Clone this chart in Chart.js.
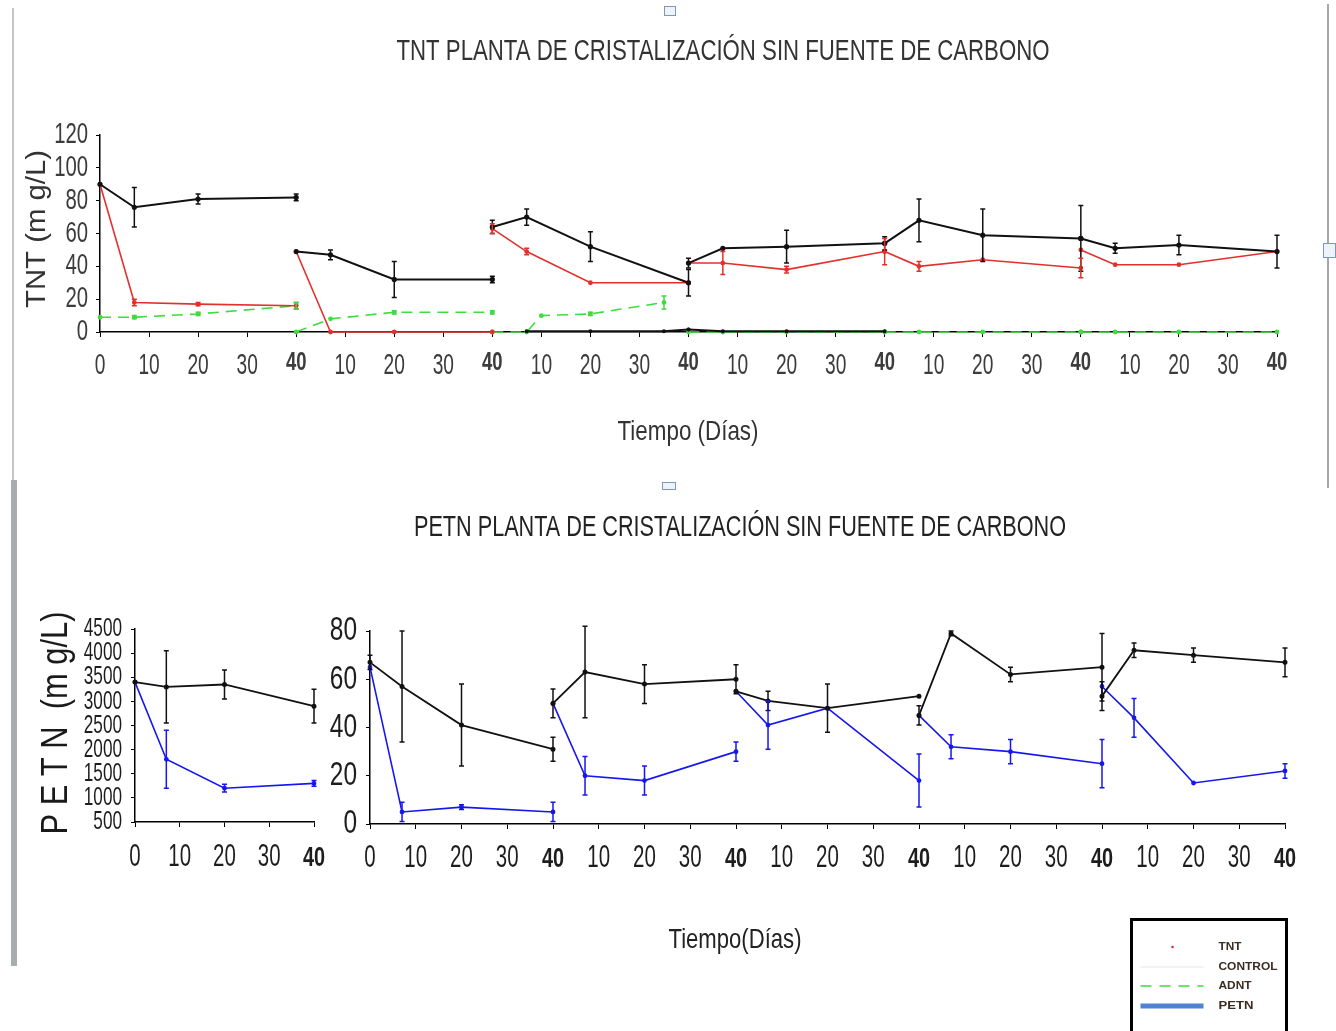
<!DOCTYPE html>
<html>
<head>
<meta charset="utf-8">
<title>TNT / PETN planta de cristalización sin fuente de carbono</title>
<script src="https://cdn.jsdelivr.net/npm/chart.js@4.4.1/dist/chart.umd.min.js"></script>
<style>
  html, body { margin: 0; padding: 0; background: #fff; }
  #page { position: relative; width: 1336px; height: 1031px; overflow: hidden; background: #fff; }
  #page canvas { position: absolute; left: 0; top: 0; }
  .frame { position: absolute; }
  .handle { position: absolute; border: 1px solid #7f97bd; background: #eef3fa; box-sizing: border-box; }
</style>
</head>
<body>
<div id="page">
  <div class="frame" style="left:12px;top:8px;width:2px;height:474px;background:#c6c6c6"></div>
  <div class="frame" style="left:11px;top:480px;width:6px;height:486px;background:#a9adb1"></div>
  <div class="frame" style="left:1327px;top:4px;width:2px;height:484px;background:#a3a8ae"></div>
  <div class="handle" style="left:664px;top:6px;width:12px;height:10px"></div>
  <div class="handle" style="left:1323px;top:243px;width:13px;height:15px"></div>
  <div class="handle" style="left:662px;top:482px;width:14px;height:8px"></div>
  <canvas id="tntChart" width="1336" height="1031"></canvas>
  <canvas id="petnHighChart" width="1336" height="1031"></canvas>
  <canvas id="petnChart" width="1336" height="1031"></canvas>
</div>
<script>
// ---- TNT (mg/L): six 40-day runs, sampled on these days ----
const tntDays = [0, 7, 20, 40];
const tntControl    = [[90, 76, 81, 82], [49, 47, 32, 32], [64, 70, 52, 30], [42, 51, 52, 54], [54, 68, 59, 57], [57, 51, 53, 49]];
const tntControlErr = [[0, 12, 3, 2], [0, 3, 11, 2], [4, 5, 9, 8], [3, 0, 10, 4], [0, 13, 16, 20], [0, 3, 6, 10]];
const tntPlant      = [[90, 18, 17, 16], [49, 0, 0, 0], [63, 49, 30, 30], [42, 42, 38, 49], [49, 40, 44, 39], [50, 41, 41, 49]];
const tntPlantErr   = [[0, 2, 1, 2], [0, 0, 0, 0], [3, 2, 0, 0], [0, 7, 2, 8], [0, 3, 0, 6], [0, 0, 0, 0]];
const adntDays = [[0, 7, 20, 40], [0, 7, 20, 40], [0, 7, 10, 20, 35], [0, 7, 20, 40], [0, 7, 20, 40], [0, 7, 20, 40]];
const adnt     = [[9, 9, 11, 16], [0, 8, 12, 12], [0, 0, 10, 11, 18], [0, 0, 0, 0], [0, 0, 0, 0], [0, 0, 0, 0]];
const adntErr  = [[0, 1, 1, 2], [0, 0, 1, 1], [0, 0, 0, 1, 4], [0, 0, 0, 0], [0, 0, 0, 0], [0, 0, 0, 0]];
// ADNT in the control flasks (runs 3 and 4 only)
const adntControlRuns = [2, 3];
const adntControlDays = [[7, 20, 35, 40], [0, 7, 20, 40]];
const adntControl     = [[0.4, 0.4, 0.4, 1.5], [1.5, 0.5, 0.5, 0.5]];

// ---- PETN (mg/L): first run on its own scale, then five runs ----
const petnDays = [0, 7, 20, 40];
const petnHighControl    = [3400, 3300, 3350, 2900];
const petnHighControlErr = [0, 750, 300, 350];
const petnHigh           = [3400, 1800, 1200, 1300];
const petnHighErr        = [0, 600, 80, 60];
const petnControl    = [[67, 57, 41, 31], [50, 63, 58, 60], [55, 51, 48, 53], [45, 79, 62, 65], [53, 72, 70, 67]];
const petnControlErr = [[3, 23, 17, 5], [6, 19, 8, 6], [0, 4, 10, 0], [4, 1, 3, 14], [6, 3, 3, 6]];
const petnPlant      = [[65, 5, 7, 5], [50, 20, 18, 30], [55, 41, 48, 18], [45, 32, 30, 25], [57, 44, 17, 22]];
const petnPlantErr   = [[0, 4, 1, 4], [0, 8, 6, 4], [0, 10, 0, 11], [0, 5, 5, 10], [0, 8, 0, 3]];

const RUN_LENGTH = 40;

const SANS = "'Liberation Sans',Arial,sans-serif";
const C_CONTROL = '#111111';
const C_TNT = '#e2312d';
const C_ADNT = '#3fdc3f';
const C_PETN = '#1616f0';
const HIDDEN = 'rgba(0,0,0,0)';

// Joins several runs into one {x, y, err} list; a null point separates runs.
function runsToPoints(runs, daysFor, values, errs) {
  const pts = [];
  runs.forEach((run, k) => {
    if (k > 0) pts.push({ x: run * RUN_LENGTH, y: null });
    const days = daysFor(k);
    values[k].forEach((v, i) => {
      pts.push({ x: run * RUN_LENGTH + days[i], y: v, err: errs ? errs[k][i] : 0 });
    });
  });
  return pts;
}
const allRuns = n => Array.from({ length: n }, (_, i) => i);

function dayLabel(v) {
  if (v === 0) return '0';
  const r = v % RUN_LENGTH;
  return r === 0 ? '40' : String(r);
}
const isRunEnd = v => v > 0 && v % RUN_LENGTH === 0;

// Text drawn squeezed horizontally (to a width, or by a factor).
function drawFitted(ctx, text, x, y, o) {
  ctx.save();
  ctx.font = o.font;
  const w = ctx.measureText(text).width;
  const sx = o.width ? o.width / w : (o.scaleX || 1);
  ctx.translate(x, y);
  if (o.rotate) ctx.rotate(o.rotate);
  ctx.scale(sx, 1);
  ctx.fillStyle = o.color || '#222';
  ctx.textAlign = o.align || 'center';
  ctx.textBaseline = 'middle';
  ctx.fillText(text, 0, 0);
  ctx.restore();
}

const captions = {
  id: 'captions',
  afterDraw(chart, args, opts) {
    (opts.items || []).forEach(it => drawFitted(chart.ctx, it.text, it.x, it.y, it));
  }
};

// Condensed tick labels, placed from the chart's own scale ticks.
const narrowTicks = {
  id: 'narrowTicks',
  afterDraw(chart, args, o) {
    const ctx = chart.ctx;
    const xs = chart.scales.x, ys = chart.scales.y;
    xs.ticks.forEach(t => {
      const end = isRunEnd(t.value);
      drawFitted(ctx, t.label, xs.getPixelForValue(t.value), o.xLabelY + (end ? o.endDy : 0), {
        font: (end ? 'bold ' + (o.xSize - 3) : o.xSize) + 'px ' + SANS,
        scaleX: end ? o.xSx + 0.05 : o.xSx, color: o.color
      });
    });
    ys.ticks.forEach(t => {
      drawFitted(ctx, t.label, ys.right - o.yGap, ys.getPixelForValue(t.value), {
        font: o.ySize + 'px ' + SANS, scaleX: o.ySx, align: 'right', color: o.color
      });
    });
  }
};

const errorBars = {
  id: 'errorBars',
  afterDatasetsDraw(chart) {
    const { ctx } = chart;
    const xs = chart.scales.x, ys = chart.scales.y;
    chart.data.datasets.forEach((ds, di) => {
      if (!chart.isDatasetVisible(di)) return;
      ctx.save();
      ctx.strokeStyle = ds.borderColor;
      ctx.lineWidth = 1.5;
      ds.data.forEach(p => {
        if (p.y == null || !p.err) return;
        const px = xs.getPixelForValue(p.x);
        const top = ys.getPixelForValue(p.y + p.err);
        const bot = ys.getPixelForValue(Math.max(p.y - p.err, ys.min));
        ctx.beginPath();
        ctx.moveTo(px, top); ctx.lineTo(px, bot);
        ctx.moveTo(px - 2.5, top); ctx.lineTo(px + 2.5, top);
        ctx.moveTo(px - 2.5, bot); ctx.lineTo(px + 2.5, bot);
        ctx.stroke();
      });
      ctx.restore();
    });
  }
};

const legendBox = {
  id: 'legendBox',
  afterDraw(chart, args, o) {
    if (!o.items) return;
    const ctx = chart.ctx;
    ctx.save();
    ctx.lineWidth = 3;
    ctx.strokeStyle = '#000';
    ctx.strokeRect(o.x, o.y, o.w, o.h);
    o.items.forEach(it => {
      ctx.save();
      if (it.kind === 'dot') {
        ctx.fillStyle = it.color;
        ctx.beginPath();
        ctx.arc(o.x + 41, it.y, 1.3, 0, Math.PI * 2);
        ctx.fill();
      } else {
        ctx.strokeStyle = it.color;
        ctx.lineWidth = it.lineWidth;
        ctx.setLineDash(it.dash || []);
        ctx.beginPath();
        ctx.moveTo(o.x + 9, it.y);
        ctx.lineTo(o.x + 72, it.y);
        ctx.stroke();
      }
      ctx.restore();
      drawFitted(ctx, it.label, o.x + 87, it.y, { font: 'bold 11px ' + SANS, width: it.textWidth, align: 'left', color: '#3a2c22' });
    });
    ctx.restore();
  }
};

function lineSet(label, color, data, extra) {
  return Object.assign({
    label, data,
    borderColor: color, backgroundColor: color,
    borderWidth: 1.6, pointRadius: 1.6, pointHoverRadius: 1.6,
    tension: 0, spanGaps: false, clip: 6
  }, extra || {});
}

function xScale(max, height) {
  return {
    type: 'linear', min: 0, max,
    afterFit: s => { s.height = height; },
    ticks: { stepSize: 10, autoSkip: false, maxRotation: 0, color: HIDDEN, callback: v => dayLabel(v) },
    grid: { drawOnChartArea: false, color: '#000', tickLength: 5, lineWidth: 1 },
    border: { color: '#000', width: 1.5 }
  };
}
function yScale(min, max, step, width) {
  return {
    min, max,
    afterFit: s => { s.width = width; },
    ticks: { stepSize: step, autoSkip: false, color: HIDDEN, callback: v => String(v) },
    grid: { drawOnChartArea: false, color: '#000', tickLength: 4, lineWidth: 1 },
    border: { color: '#000', width: 1.5 }
  };
}

const basePlugins = { legend: { display: false }, tooltip: { enabled: false }, title: { display: false } };
const baseOptions = { responsive: false, animation: false, devicePixelRatio: 1, events: [] };

// ---------------- TNT ----------------
new Chart(document.getElementById('tntChart'), {
  type: 'line',
  data: {
    datasets: [
      lineSet('CONTROL', C_CONTROL, runsToPoints(allRuns(6), () => tntDays, tntControl, tntControlErr), { borderWidth: 2 }),
      lineSet('TNT', C_TNT, runsToPoints(allRuns(6), () => tntDays, tntPlant, tntPlantErr)),
      lineSet('ADNT control', C_CONTROL, runsToPoints(adntControlRuns, k => adntControlDays[k], adntControl, null), { borderWidth: 2, pointRadius: 1 }),
      lineSet('ADNT', C_ADNT, runsToPoints(allRuns(6), k => adntDays[k], adnt, adntErr), { borderDash: [11, 7] })
    ]
  },
  options: Object.assign({}, baseOptions, {
    layout: { padding: { left: 0, top: 135, right: 59, bottom: 0 } },
    scales: { x: xScale(240, 1031 - 332), y: yScale(0, 120, 20, 100) },
    plugins: Object.assign({}, basePlugins, {
      narrowTicks: { xLabelY: 366, endDy: -3, xSize: 29, xSx: 0.66, ySize: 29, ySx: 0.7, yGap: 12, color: '#3c3c3c' },
      captions: { items: [
        { text: 'TNT PLANTA DE CRISTALIZACIÓN SIN FUENTE DE CARBONO', x: 723, y: 52, font: '30px ' + SANS, width: 653, color: '#333' },
        { text: 'Tiempo (Días)', x: 688, y: 432, font: '28px ' + SANS, width: 141, color: '#333' },
        { text: 'TNT (m g/L)', x: 38, y: 229, font: '27px ' + SANS, width: 158, rotate: -Math.PI / 2, color: '#333' }
      ] }
    })
  }),
  plugins: [errorBars, narrowTicks, captions]
});

// ---------------- PETN, first run (high concentration) ----------------
new Chart(document.getElementById('petnHighChart'), {
  type: 'line',
  data: {
    datasets: [
      lineSet('CONTROL', C_CONTROL, runsToPoints([0], () => petnDays, [petnHighControl], [petnHighControlErr]), { borderWidth: 1.8 }),
      lineSet('PETN', C_PETN, runsToPoints([0], () => petnDays, [petnHigh], [petnHighErr]))
    ]
  },
  options: Object.assign({}, baseOptions, {
    layout: { padding: { left: 0, top: 629, right: 1336 - 314, bottom: 0 } },
    scales: { x: xScale(40, 1031 - 822), y: yScale(500, 4500, 500, 135) },
    plugins: Object.assign({}, basePlugins, {
      narrowTicks: { xLabelY: 857, endDy: 1, xSize: 31, xSx: 0.66, ySize: 26, ySx: 0.66, yGap: 13, color: '#1d1d1d' },
      captions: { items: [
        { text: 'P E T N  (m g/L)', x: 57, y: 723, font: '36px ' + SANS, width: 223, rotate: -Math.PI / 2, color: '#1a1a1a' }
      ] }
    })
  }),
  plugins: [errorBars, narrowTicks, captions]
});

// ---------------- PETN, runs 2 to 6 ----------------
new Chart(document.getElementById('petnChart'), {
  type: 'line',
  data: {
    datasets: [
      lineSet('CONTROL', C_CONTROL, runsToPoints(allRuns(5), () => petnDays, petnControl, petnControlErr), { borderWidth: 1.8 }),
      lineSet('PETN', C_PETN, runsToPoints(allRuns(5), () => petnDays, petnPlant, petnPlantErr))
    ]
  },
  options: Object.assign({}, baseOptions, {
    layout: { padding: { left: 0, top: 631, right: 1336 - 1285, bottom: 0 } },
    scales: { x: xScale(200, 1031 - 824), y: yScale(0, 80, 20, 370) },
    plugins: Object.assign({}, basePlugins, {
      narrowTicks: { xLabelY: 858, endDy: 1, xSize: 31, xSx: 0.66, ySize: 34, ySx: 0.72, yGap: 13, color: '#1d1d1d' },
      captions: { items: [
        { text: 'PETN PLANTA DE CRISTALIZACIÓN SIN FUENTE DE CARBONO', x: 740, y: 528, font: '30px ' + SANS, width: 652, color: '#222' },
        { text: 'Tiempo(Días)', x: 735, y: 940, font: '28px ' + SANS, width: 133, color: '#222' }
      ] },
      legendBox: {
        x: 1131.5, y: 919.5, w: 155, h: 130,
        items: [
          { label: 'TNT', kind: 'dot', color: C_TNT, y: 947, textWidth: 23 },
          { label: 'CONTROL', kind: 'line', color: '#e6e6e6', lineWidth: 1, y: 967, textWidth: 59 },
          { label: 'ADNT', kind: 'line', color: C_ADNT, lineWidth: 1.5, dash: [11, 8], y: 986, textWidth: 33 },
          { label: 'PETN', kind: 'line', color: '#4f83d3', lineWidth: 5, y: 1006, textWidth: 35 }
        ]
      }
    })
  }),
  plugins: [errorBars, narrowTicks, captions, legendBox]
});
</script>
</body>
</html>
